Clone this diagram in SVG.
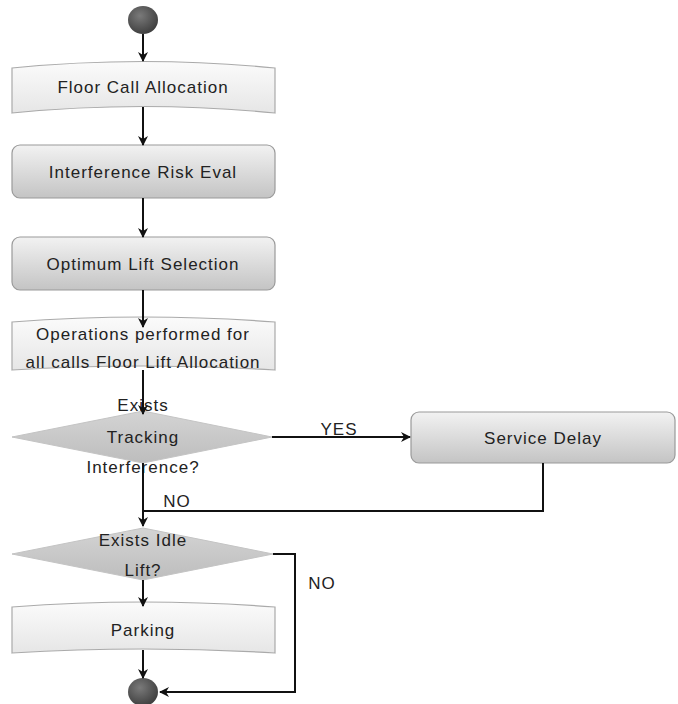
<svg xmlns="http://www.w3.org/2000/svg" width="678" height="704" viewBox="0 0 678 704">
<defs>
<linearGradient id="gBox" x1="0" y1="0" x2="0" y2="1"><stop offset="0" stop-color="#f2f2f2"/><stop offset="1" stop-color="#c4c4c4"/></linearGradient>
<linearGradient id="gBan" x1="0" y1="0" x2="0" y2="1"><stop offset="0" stop-color="#fbfbfb"/><stop offset="1" stop-color="#e6e6e6"/></linearGradient>
<radialGradient id="gDot" cx="0.4" cy="0.35" r="0.7"><stop offset="0" stop-color="#7a7a7a"/><stop offset="1" stop-color="#3c3c3c"/></radialGradient>
<linearGradient id="gDia" x1="0" y1="0" x2="0" y2="1"><stop offset="0" stop-color="#d4d4d4"/><stop offset="1" stop-color="#bdbdbd"/></linearGradient>
<marker id="ah" viewBox="0 0 10 10" refX="9" refY="5" markerWidth="10" markerHeight="10" markerUnits="userSpaceOnUse" orient="auto"><path d="M0,0 L10,5 L0,10 L3,5 Z" fill="#111"/></marker>
</defs>
<style>
text{font-family:"Liberation Sans",Arial,sans-serif;font-size:17px;letter-spacing:1px;fill:#222;text-anchor:middle}
.box{fill:url(#gBox);stroke:#9a9a9a;stroke-width:1.2}
.ban{fill:url(#gBan);stroke:#aaa;stroke-width:1.2}
.dia{fill:url(#gDia);stroke:#c4c4c4;stroke-width:1}
.dot{fill:url(#gDot)}
.c{fill:none;stroke:#111;stroke-width:2}
</style>
<g id="start"><ellipse class="dot" cx="143" cy="20" rx="15" ry="14"/></g>
<g id="floorCall"><path class="ban" d="M12,68 Q143,55 275,68 L275,113 Q143,100 12,113 Z"/><text x="143" y="93">Floor Call  Allocation</text></g>
<g id="interference"><rect class="box" x="12" y="145" width="263" height="53" rx="8"/><text x="143" y="178">Interference Risk Eval</text></g>
<g id="optimum"><rect class="box" x="12" y="237" width="263" height="53" rx="8"/><text x="143" y="270">Optimum Lift Selection</text></g>
<g id="operations"><path class="ban" d="M12,322 Q143,312 275,322 L275,370 Q143,362 12,370 Z"/><text x="143" y="340">Operations performed for</text><text x="143" y="368">all calls Floor Lift Allocation</text></g>
<g id="tracking"><polygon class="dia" points="12,437 143,411 272,437 143,463"/><text x="143" y="411">Exists</text><text x="143" y="443">Tracking</text><text x="143" y="473">Interference?</text></g>
<g id="serviceDelay"><rect class="box" x="411" y="412" width="264" height="51" rx="8"/><text x="543" y="444">Service Delay</text></g>
<g id="idle"><polygon class="dia" points="12,554 143,528 273,554 143,580"/><text x="143" y="546">Exists Idle</text><text x="143" y="576">Lift?</text></g>
<g id="parking"><path class="ban" d="M12,607 Q143,597 275,607 L275,653 Q143,645 12,653 Z"/><text x="143" y="636">Parking</text></g>
<g id="end"><ellipse class="dot" cx="143" cy="692" rx="15" ry="14"/></g>
<g id="connectors">
<line class="c" x1="143" y1="34" x2="143" y2="61" marker-end="url(#ah)"/>
<line class="c" x1="143" y1="107" x2="143" y2="145" marker-end="url(#ah)"/>
<line class="c" x1="143" y1="198" x2="143" y2="237" marker-end="url(#ah)"/>
<line class="c" x1="143" y1="290" x2="143" y2="327" marker-end="url(#ah)"/>
<line class="c" x1="143" y1="370" x2="143" y2="414" marker-end="url(#ah)"/>
<line class="c" x1="272" y1="437" x2="410" y2="437" marker-end="url(#ah)"/>
<text x="339" y="435">YES</text>
<polyline class="c" points="543,463 543,511 143,511"/>
<line class="c" x1="143" y1="463" x2="143" y2="526" marker-end="url(#ah)"/>
<text x="177" y="507">NO</text>
<polyline class="c" points="273,554 295,554 295,692 160,692" marker-end="url(#ah)"/>
<text x="322" y="589">NO</text>
<line class="c" x1="143" y1="580" x2="143" y2="606" marker-end="url(#ah)"/>
<line class="c" x1="143" y1="650" x2="143" y2="678" marker-end="url(#ah)"/>
</g>
</svg>
